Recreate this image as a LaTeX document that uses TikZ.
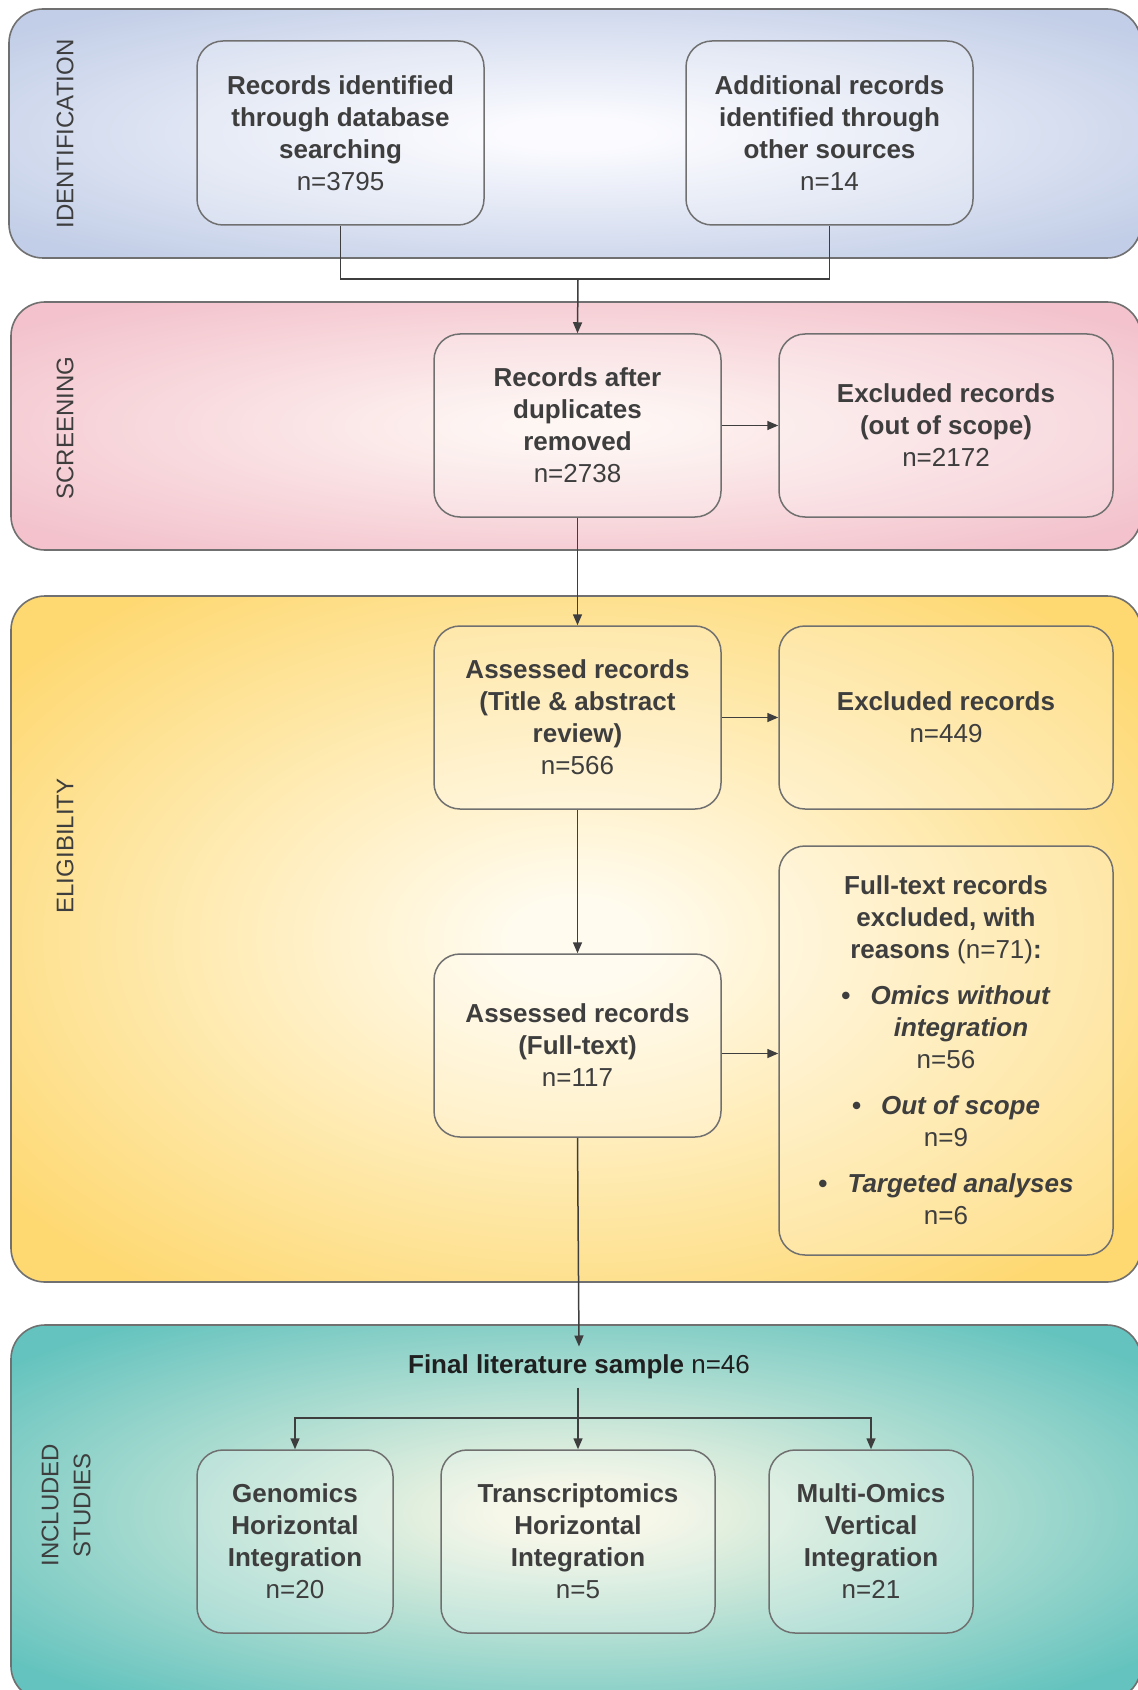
\documentclass[tikz,border=0pt]{standalone}
\usepackage{fontspec}
\setmainfont{Liberation Sans}
\usetikzlibrary{arrows.meta,positioning}

\definecolor{inkgray}{RGB}{62,62,62}
\definecolor{linegray}{RGB}{112,112,112}
\definecolor{identout}{RGB}{194,206,231}
\definecolor{identin}{RGB}{251,251,255}
\definecolor{screenout}{RGB}{243,194,204}
\definecolor{screenin}{RGB}{254,244,241}
\definecolor{eligout}{RGB}{254,216,112}
\definecolor{eligin}{RGB}{255,251,238}
\definecolor{inclout}{RGB}{100,195,190}
\definecolor{inclin}{RGB}{246,246,228}

% soft glow, recomputed for each pair of band colours
\colorlet{bandin}{white}
\colorlet{bandout}{gray}
\pgfdeclareradialshading[bandin,bandout]{bandglow}{\pgfpointorigin}{%
  color(0bp)=(bandin); color(3bp)=(bandin); color(32bp)=(bandout); color(50bp)=(bandout)}

\tikzset{
  band/.style 2 args={draw=linegray, line width=0.8pt, rounded corners=17pt,
    /utils/exec={\colorlet{bandin}{#1}\colorlet{bandout}{#2}}, shading=bandglow},
  bandlabel/.style={rotate=90, font=\fontsize{12}{16}\selectfont, text=inkgray, align=center},
  recbox/.style={draw=linegray, line width=0.75pt, rounded corners=13pt,
    fill=white, fill opacity=0.2, text opacity=1, text=inkgray, align=center,
    font=\fontsize{13}{16}\selectfont\bfseries, minimum height=91.5pt, inner sep=4pt},
  link/.style={draw=inkgray, line width=0.75pt},
  arr/.style={link, -{Triangle[length=5.5pt,width=4.5pt]}}
}

\begin{document}
\begin{tikzpicture}[x=0.5pt, y=-0.5pt]
      \useasboundingbox (0,0) rectangle (1137,1690);

      % Phase bands with soft radial glow
      \path[band={identin}{identout}] (9,9) rectangle (1141,258);
      \path[band={screenin}{screenout}] (11,302) rectangle (1141,550);
      \path[band={eligin}{eligout}] (11,596) rectangle (1141,1282);
      \path[band={inclin}{inclout}] (11,1325) rectangle (1141,1700);

      % Band labels
      \node[bandlabel] (lblident) at (65,134) {IDENTIFICATION};
      \node[bandlabel] (lblscreen) at (65,428) {SCREENING};
      \node[bandlabel] (lblelig) at (65,846) {ELIGIBILITY};
      \node[bandlabel] (lblincl) at (66,1505) {INCLUDED\\STUDIES};

      % Identification
      \node[recbox, minimum width=143.5pt, minimum height=92pt] (dbsearch) at (340.5,133) {%
Records identified\\through database\\searching\\{\mdseries n=3795}};
      \node[recbox, minimum width=143.5pt, minimum height=92pt] (othersrc) at (829.5,133) {%
Additional records\\identified through\\other sources\\{\mdseries n=14}};

      % Screening
      \node[recbox, minimum width=143.5pt] (dedup) at (577.5,425.5) {%
Records after\\duplicates\\removed\\{\mdseries n=2738}};
      \node[recbox, minimum width=167pt] (outscope) at (946,425.5) {%
Excluded records\\(out of scope)\\{\mdseries n=2172}};

      % Eligibility
      \node[recbox, minimum width=143.5pt] (tiab) at (577.5,717.5) {%
Assessed records\\(Title \& abstract\\review)\\{\mdseries n=566}};
      \node[recbox, minimum width=167pt] (exclta) at (946,717.5) {%
Excluded records\\{\mdseries n=449}};
      \node[recbox, minimum width=143.5pt] (fulltext) at (577.5,1045.5) {%
Assessed records\\(Full-text)\\{\mdseries n=117}};
      \node[recbox, minimum width=167pt, minimum height=204.5pt] (exclft) at (946,1050.5) {%
Full-text records\\excluded, with\\reasons {\mdseries (n=71)}:\\[7pt]
\textbullet\hspace{10pt}\textit{Omics without}\\
\hspace*{15pt}\textit{integration}\\
{\mdseries n=56}\\[7pt]
\textbullet\hspace{10pt}\textit{Out of scope}\\
{\mdseries n=9}\\[7pt]
\textbullet\hspace{10pt}\textit{Targeted analyses}\\
{\mdseries n=6}};

      % Included studies
      \node[font=\fontsize{13}{16}\selectfont, text=black!88, inner sep=4pt] (final) at (579,1367) {%
\textbf{Final literature sample} n=46};
      \node[recbox, minimum width=98pt] (genomics) at (295,1541.5) {%
Genomics\\Horizontal\\Integration\\{\mdseries n=20}};
      \node[recbox, minimum width=137pt] (transcr) at (578,1541.5) {%
Transcriptomics\\Horizontal\\Integration\\{\mdseries n=5}};
      \node[recbox, minimum width=102pt] (multiomics) at (871,1541.5) {%
Multi-Omics\\Vertical\\Integration\\{\mdseries n=21}};

      % Connectors
      \coordinate (merge) at (578,279);
      \coordinate (split) at (578,1418);
      \draw[link] (dbsearch.south) |- (merge) -| (othersrc.south);
      \draw[arr] (merge) -- (dedup.north);
      \draw[arr] (dedup.east) -- (outscope.west);
      \draw[arr] (dedup.south) -- (tiab.north);
      \draw[arr] (tiab.east) -- (exclta.west);
      \draw[arr] (tiab.south) -- (fulltext.north);
      \draw[arr] ([yshift=-4pt]fulltext.east) -- ([yshift=-4pt]fulltext.east -| exclft.west);
      \draw[arr] (fulltext.south) -- (final.north);
      \draw[arr] (final.south -| transcr.north) -- (transcr.north);
      \draw[arr] (split) -| (genomics.north);
      \draw[arr] (split) -| (multiomics.north);

    \end{tikzpicture}
\end{document}
